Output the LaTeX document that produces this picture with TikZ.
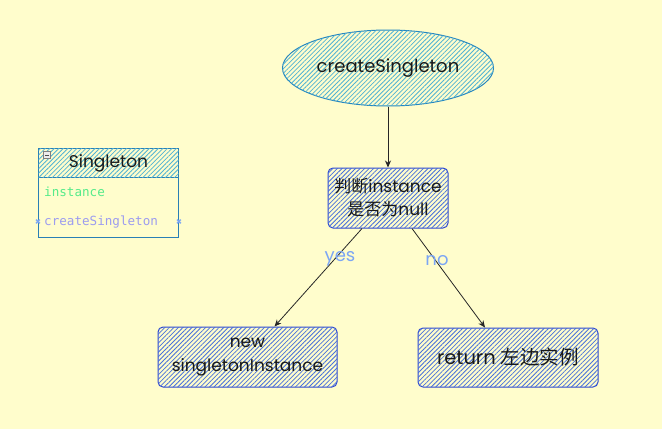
\documentclass[tikz,border=0pt]{standalone}
\usepackage{fontspec}
\setmainfont{Poppins}
\newfontfamily\cjk{Noto Sans CJK SC}
\setmonofont{DejaVu Sans Mono}
\usetikzlibrary{patterns.meta,arrows.meta,shapes.geometric}
\definecolor{bg}{RGB}{255,253,204}
\definecolor{ellborder}{RGB}{38,134,191}
\definecolor{cyanhatch}{RGB}{80,178,212}
\definecolor{blueborder}{RGB}{46,71,208}
\definecolor{bluehatch}{RGB}{72,112,220}
\definecolor{clsborder}{RGB}{42,127,181}
\definecolor{labelblue}{RGB}{124,166,244}
\definecolor{fieldgreen}{RGB}{85,235,138}
\definecolor{fieldlav}{RGB}{156,156,240}
\tikzset{
  cyanfill/.style={fill=bg, postaction={pattern={Lines[angle=45,distance=3.2pt,line width=0.8pt]}, pattern color=cyanhatch}},
  bluefill/.style={fill=bg, postaction={pattern={Lines[angle=45,distance=3.2pt,line width=0.8pt]}, pattern color=bluehatch}},
  flowbox/.style={draw=blueborder, line width=1pt, rounded corners=5pt, bluefill, align=center, font=\fontsize{17}{24}\selectfont, text=black!90},
  arr/.style={draw=black!85, line width=0.8pt, -{Stealth[length=7pt,width=6pt]}},
  edgelabel/.style={text=labelblue, font=\fontsize{18}{20}\selectfont},
  field/.style={anchor=west, font=\ttfamily\fontsize{12.6}{14}\selectfont, inner sep=0pt},
  xmark/.style={text=labelblue, font=\fontsize{10}{10}\selectfont\bfseries, inner sep=0pt}
}
\begin{document}
\begin{tikzpicture}[x=1pt,y=-1pt]
\fill[bg] (0,0) rectangle (662,429);
\useasboundingbox (0,0) rectangle (662,429);

% start ellipse
\node[ellipse, draw=ellborder, line width=1pt, cyanfill, minimum width=200pt, minimum height=76pt, font=\fontsize{18}{20}\selectfont, text=black!90] (start) at (388,68) {createSingleton};

% decision
\node[flowbox, minimum width=120pt, minimum height=60pt, inner sep=0pt, font=\fontsize{17}{23}\selectfont] (dec) at (388,198) {{\cjk 判断}instance\\{\cjk 是否为}null};

% outcomes
\node[flowbox, minimum width=179pt, minimum height=60pt] (new) at (247.5,357) {new\\singletonInstance};
\node[flowbox, minimum width=180pt, minimum height=59pt, font=\fontsize{19.5}{22}\selectfont] (ret) at (508,357.5) {return {\cjk 左边实例}};

% connectors
\draw[arr] (start) -- (dec);
\draw[arr] ([xshift=-26pt]dec.south) -- ([xshift=27pt]new.north);
\draw[arr] ([xshift=24pt]dec.south) -- ([xshift=-23pt]ret.north);
\node[edgelabel] (yes) at (340,259) {yes};
\node[edgelabel] (no) at (437,261) {no};

% class box
\node[draw=clsborder, line width=1pt, fill=bg, anchor=north west, minimum width=140pt, minimum height=89pt, inner sep=0pt] (cls) at (38,148) {};
\node[draw=clsborder, line width=1pt, cyanfill, anchor=north west, minimum width=140pt, minimum height=29pt, inner sep=0pt, font=\fontsize{17}{18}\selectfont, text=black!90] (hdr) at (38,148) {Singleton};
\node[draw=gray, fill=gray!15, line width=0.5pt, minimum size=7pt, inner sep=0pt] (minus) at (47,155) {};
\draw[gray!60!black, line width=0.7pt] ([xshift=1.5pt]minus.west) -- ([xshift=-1.5pt]minus.east);
\node[field, text=fieldgreen] (f1) at (44,192) {instance};
\node[field, text=fieldlav] (f2) at (44,222) {createSingleton};
\node[xmark] (x1) at (cls.west |- f2) {×};
\node[xmark] (x2) at (cls.east |- f2) {×};
\end{tikzpicture}
\end{document}
